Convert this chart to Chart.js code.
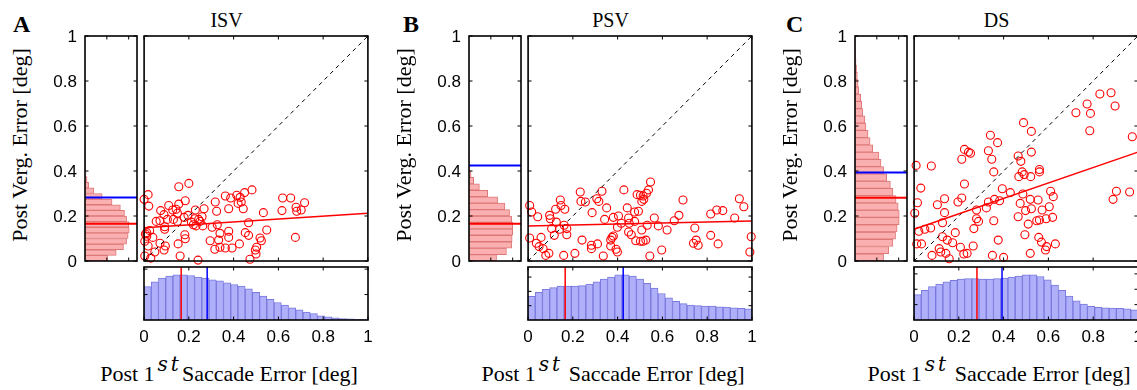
<!DOCTYPE html>
<html>
<head>
<meta charset="utf-8">
<script src="https://cdn.jsdelivr.net/npm/chart.js"></script>
<style>
  body { margin: 0; background: #fff; }
  #fig { position: relative; width: 1137px; height: 390px; overflow: hidden; font-family: "Liberation Serif", "Times New Roman", serif; color: #000; }
  .panel { position: absolute; top: 0; width: 384px; height: 390px; }
  canvas { position: absolute; }
  .letter { position: absolute; top: 12px; font: bold 24px/24px "Liberation Serif", serif; }
  .title { position: absolute; top: 10px; left: 85px; width: 283px; text-align: center; font: 20px/20px "Liberation Serif", serif; }
  .ylab { position: absolute; left: -110px; top: 134px; width: 260px; text-align: center; font: 22px/22px "Liberation Serif", serif; transform: rotate(-90deg); white-space: nowrap; }
  .xlab { position: absolute; left: 29px; top: 362px; width: 400px; text-align: center; font: 22px/22px "Liberation Serif", serif; white-space: nowrap; }
  .sup { position: relative; top: -10px; font: italic 20px "DejaVu Serif", serif; letter-spacing: 3px; margin-left: 3px; }
</style>
</head>
<body>
<div id="fig"></div>
<script>
const tickValues = [0, 0.2, 0.4, 0.6, 0.8, 1];
const tickLabels = ["0", "0.2", "0.4", "0.6", "0.8", "1"];

const letters = ["A", "B", "C"];
const titles = ["ISV", "PSV", "DS"];

// scatter points: [post 1st saccade error, post vergence error]
const isvPoints = [
  [0.000,0.274],[0.018,0.295],[0.021,0.244],[0.155,0.330],[0.200,0.345],[0.074,0.224],[0.110,0.247],[0.143,0.230],[0.155,0.253],[0.184,0.268],
  [0.128,0.227],[0.149,0.212],[0.089,0.206],[0.054,0.176],[0.071,0.179],[0.104,0.185],[0.131,0.185],[0.149,0.176],[0.179,0.194],[0.196,0.203],
  [0.229,0.227],[0.268,0.232],[0.226,0.188],[0.244,0.185],[0.259,0.197],[0.220,0.161],[0.232,0.156],[0.262,0.156],[0.211,0.173],[0.250,0.176],
  [0.092,0.152],[0.092,0.141],[0.006,0.120],[0.012,0.126],[0.003,0.088],[0.039,0.105],[0.018,0.067],[0.071,0.079],[0.095,0.067],[0.089,0.049],
  [0.003,0.022],[0.030,0.013],[0.048,0.040],[0.161,0.022],[0.241,0.004],[0.152,0.076],[0.182,0.117],[0.184,0.099],[0.304,0.150],[0.327,0.161],
  [0.339,0.123],[0.295,0.090],[0.316,0.052],[0.333,0.093],[0.318,0.262],[0.324,0.221],[0.363,0.289],[0.387,0.280],[0.414,0.292],[0.429,0.283],
  [0.449,0.304],[0.482,0.316],[0.420,0.256],[0.434,0.262],[0.378,0.232],[0.443,0.232],[0.467,0.170],[0.378,0.132],[0.378,0.105],[0.339,0.061],
  [0.363,0.058],[0.393,0.058],[0.426,0.076],[0.452,0.126],[0.467,0.114],[0.473,0.008],[0.497,0.049],[0.500,0.031],[0.503,0.061],[0.518,0.102],
  [0.524,0.090],[0.548,0.138],[0.533,0.215],[0.619,0.280],[0.655,0.280],[0.616,0.224],[0.679,0.239],[0.682,0.221],[0.702,0.227],[0.717,0.259],
  [0.676,0.105],[0.012,0.110],[0.025,0.135]
];
const psvPoints = [
  [0.007,0.247],[0.016,0.218],[0.043,0.197],[0.007,0.102],[0.058,0.105],[0.037,0.079],[0.049,0.064],[0.067,0.055],[0.079,0.025],[0.093,0.034],
  [0.096,0.203],[0.099,0.188],[0.105,0.144],[0.117,0.114],[0.123,0.230],[0.126,0.173],[0.144,0.271],[0.147,0.247],[0.164,0.230],[0.141,0.141],
  [0.161,0.159],[0.173,0.144],[0.173,0.117],[0.159,0.025],[0.209,0.034],[0.233,0.307],[0.236,0.265],[0.256,0.262],[0.241,0.093],[0.286,0.215],
  [0.307,0.277],[0.316,0.265],[0.330,0.310],[0.283,0.070],[0.283,0.055],[0.310,0.076],[0.336,0.022],[0.342,0.185],[0.351,0.236],[0.369,0.093],
  [0.375,0.105],[0.381,0.111],[0.369,0.067],[0.393,0.052],[0.399,0.040],[0.381,0.194],[0.399,0.150],[0.404,0.200],[0.416,0.168],[0.428,0.316],
  [0.443,0.236],[0.449,0.191],[0.449,0.129],[0.461,0.117],[0.452,0.168],[0.476,0.176],[0.476,0.218],[0.493,0.221],[0.481,0.090],[0.502,0.088],
  [0.514,0.088],[0.526,0.093],[0.487,0.295],[0.502,0.292],[0.514,0.289],[0.508,0.265],[0.517,0.274],[0.538,0.316],[0.529,0.301],[0.547,0.351],
  [0.508,0.138],[0.532,0.159],[0.544,0.022],[0.564,0.191],[0.582,0.156],[0.597,0.049],[0.621,0.138],[0.653,0.179],[0.674,0.203],[0.692,0.271],
  [0.745,0.147],[0.751,0.093],[0.739,0.079],[0.760,0.070],[0.816,0.209],[0.843,0.227],[0.870,0.224],[0.816,0.114],[0.849,0.076],[0.923,0.191],
  [0.944,0.277],[0.964,0.241],[0.997,0.108],[0.991,0.040]
];
const dsPoints = [
  [0.009,0.425],[0.077,0.422],[0.341,0.559],[0.373,0.526],[0.225,0.496],[0.243,0.484],[0.252,0.479],[0.213,0.452],[0.332,0.490],[0.347,0.452],
  [0.489,0.615],[0.524,0.576],[0.524,0.484],[0.465,0.467],[0.477,0.443],[0.723,0.659],[0.773,0.698],[0.830,0.742],[0.880,0.748],[0.898,0.689],
  [0.788,0.656],[0.785,0.579],[0.975,0.552],[0.356,0.396],[0.483,0.396],[0.492,0.384],[0.468,0.375],[0.521,0.375],[0.560,0.407],[0.560,0.396],
  [0.225,0.342],[0.030,0.324],[0.394,0.321],[0.430,0.304],[0.486,0.298],[0.610,0.310],[0.622,0.286],[0.889,0.274],[0.904,0.310],[0.963,0.307],
  [0.015,0.259],[0.104,0.250],[0.136,0.277],[0.196,0.262],[0.213,0.280],[0.332,0.262],[0.359,0.274],[0.382,0.268],[0.474,0.256],[0.519,0.274],
  [0.554,0.271],[0.003,0.212],[0.136,0.215],[0.279,0.227],[0.323,0.236],[0.498,0.224],[0.524,0.232],[0.572,0.227],[0.604,0.241],[0.465,0.197],
  [0.279,0.188],[0.288,0.176],[0.127,0.170],[0.356,0.179],[0.510,0.164],[0.548,0.179],[0.560,0.182],[0.590,0.188],[0.619,0.194],[0.021,0.132],
  [0.048,0.141],[0.074,0.147],[0.184,0.126],[0.267,0.144],[0.495,0.117],[0.127,0.108],[0.148,0.093],[0.172,0.081],[0.012,0.076],[0.033,0.076],
  [0.376,0.093],[0.557,0.105],[0.569,0.084],[0.631,0.076],[0.592,0.064],[0.587,0.049],[0.207,0.061],[0.264,0.067],[0.112,0.055],[0.080,0.025],
  [0.119,0.040],[0.142,0.034],[0.157,0.010],[0.222,0.031],[0.237,0.034],[0.350,0.025],[0.400,0.016],[0.519,0.034]
];

// regression line: value at x=0 and x=1
const isvFit = [0.148, 0.212];
const psvFit = [0.156, 0.178];
const dsFit = [0.141, 0.484];

// means: [red, blue]
const isvMeans = [0.166, 0.282];
const psvMeans = [0.166, 0.425];
const dsMeans = [0.281, 0.393];

// vergence error histograms (left, from 0 upwards, relative length)
const isvVergHist = [0.44,0.60,0.74,0.80,0.83,0.85,0.84,0.80,0.76,0.68,0.52,0.33,0.17,0.07,0.04,0.02,0.012,0.008,0.006,0.005,
  0.004,0.004,0.003,0.003,0.003,0.002,0.002,0.002,0.002,0.002,0.002,0.002,0.002,0.002,0.002,0.002,0.002,0.002,0.002,0];
const psvVergHist = [0.53,0.72,0.82,0.83,0.84,0.84,0.82,0.78,0.69,0.55,0.36,0.20,0.09,0.04,0.015,0.008,0.005,0.004,
  0.003,0.003,0.002,0.002,0.002,0.002,0.002,0.002,0.002,0.002,0.002,0.002,0.002,0.002,0.002,0.002,0];
const dsVergHist = [0.55,0.65,0.73,0.78,0.81,0.85,0.85,0.83,0.79,0.73,0.68,0.61,0.55,0.50,0.46,0.34,0.29,0.25,0.21,0.19,
  0.15,0.13,0.11,0.07,0.06,0.045,0.03,0.02,0.013,0.006,0.003];

// saccade error histograms (bottom, relative height)
const isvSaccHist = [0.63,0.72,0.79,0.83,0.85,0.85,0.84,0.81,0.79,0.76,0.74,0.70,0.67,0.64,0.59,0.52,0.45,0.39,0.33,0.28,
  0.23,0.19,0.15,0.12,0.08,0.06,0.04,0.026,0.02,0.013,0.006];
const psvSaccHist = [0.445,0.52,0.58,0.61,0.64,0.64,0.64,0.65,0.68,0.72,0.77,0.81,0.85,0.85,0.83,0.77,0.69,0.60,0.50,0.42,
  0.35,0.31,0.28,0.27,0.265,0.265,0.25,0.245,0.23,0.22,0.21];
const dsSaccHist = [0.48,0.56,0.63,0.68,0.72,0.75,0.77,0.78,0.78,0.77,0.77,0.78,0.79,0.81,0.83,0.85,0.85,0.82,0.76,0.66,
  0.56,0.45,0.36,0.30,0.26,0.24,0.23,0.225,0.22,0.21,0.19];

// count-axis tick marks of the histograms
const vergCountTicks = [0.42, 0.84];
const isvSaccCountTicks = [0.48, 0.96];
const psvSaccCountTicks = [0.27, 0.54, 0.81];
const dsSaccCountTicks = [0.29, 0.58, 0.87];

const RED = "#ff0000";
const BLUE = "#0000ff";

const panels = [
  { left: 0, letterX: 13, points: isvPoints, fit: isvFit, means: isvMeans, verg: isvVergHist, sacc: isvSaccHist, saccTicks: isvSaccCountTicks, gap: false },
  { left: 384, letterX: 19, points: psvPoints, fit: psvFit, means: psvMeans, verg: psvVergHist, sacc: psvSaccHist, saccTicks: psvSaccCountTicks, gap: true },
  { left: 770, letterX: 16, points: dsPoints, fit: dsFit, means: dsMeans, verg: dsVergHist, sacc: dsSaccHist, saccTicks: dsSaccCountTicks, gap: true }
];

// box, inward ticks and tick labels drawn from the chart's own scales
function frame(cfg) {
  return {
    id: "frame",
    afterDraw(chart) {
      const { ctx, chartArea: a, scales } = chart;
      const len = 3.5;
      ctx.save();
      ctx.strokeStyle = "#000";
      ctx.lineWidth = 1;
      ctx.beginPath();
      (cfg.xTicks || []).forEach(v => {
        const x = scales.x.getPixelForValue(v);
        ctx.moveTo(x, a.bottom); ctx.lineTo(x, a.bottom - len);
        ctx.moveTo(x, a.top); ctx.lineTo(x, a.top + len);
      });
      (cfg.yTicks || []).forEach(v => {
        const y = scales.y.getPixelForValue(v);
        ctx.moveTo(a.left, y); ctx.lineTo(a.left + len, y);
        ctx.moveTo(a.right, y); ctx.lineTo(a.right - len, y);
      });
      ctx.stroke();
      ctx.lineWidth = 1.6;
      ctx.strokeRect(a.left, a.top, a.right - a.left, a.bottom - a.top);

      ctx.fillStyle = "#000";
      ctx.font = '17px "Liberation Sans", Arial, sans-serif';
      if (cfg.yLabels) {
        ctx.textAlign = "right";
        ctx.textBaseline = "middle";
        tickValues.forEach((v, i) => ctx.fillText(tickLabels[i], a.left - 8, scales.y.getPixelForValue(v) + 1));
      }
      if (cfg.xLabels) {
        ctx.textAlign = "center";
        ctx.textBaseline = "middle";
        tickValues.forEach((v, i) => ctx.fillText(tickLabels[i], scales.x.getPixelForValue(v), a.bottom + 17));
      }
      ctx.restore();
    }
  };
}

function baseOptions(padding) {
  return {
    responsive: false,
    animation: false,
    events: [],
    layout: { padding },
    plugins: { legend: { display: false }, tooltip: { enabled: false } },
    scales: {
      x: { type: "linear", min: 0, max: 1, display: false, offset: false, ticks: { stepSize: 0.5 } },
      y: { type: "linear", min: 0, max: 1, display: false, offset: false, ticks: { stepSize: 0.5 } }
    }
  };
}

function segment(points, color, width, dash) {
  return {
    type: "scatter",
    data: points,
    showLine: true,
    borderColor: color,
    borderWidth: width,
    borderDash: dash || [],
    pointRadius: 0,
    clip: false
  };
}

function addCanvas(panel, l, t, w, h) {
  const c = document.createElement("canvas");
  c.width = w;
  c.height = h;
  c.style.left = l + "px";
  c.style.top = t + "px";
  panel.appendChild(c);
  return c;
}

function makePanel(p, i) {
  const panel = document.createElement("div");
  panel.className = "panel";
  panel.style.left = p.left + "px";
  document.getElementById("fig").appendChild(panel);

  panel.innerHTML =
    `<div class="letter" style="left:${p.letterX}px">${letters[i]}</div>` +
    `<div class="title">${titles[i]}</div>` +
    `<div class="ylab">Post Verg. Error [deg]</div>` +
    `<div class="xlab">Post 1<span class="sup">st</span>${p.gap ? " " : ""}Saccade Error [deg]</div>`;

  // left histogram (vergence error)
  const nv = p.verg.length;
  new Chart(addCanvas(panel, 40, 26, 102, 245), {
    type: "bar",
    data: {
      datasets: [
        segment([{ x: 0, y: p.means[1] }, { x: 1, y: p.means[1] }], BLUE, 2),
        segment([{ x: 0, y: p.means[0] }, { x: 1, y: p.means[0] }], RED, 2),
        {
          indexAxis: "y",
          data: p.verg.map((v, k) => ({ x: v, y: (k + 0.5) / nv })),
          backgroundColor: "rgb(250,176,176)",
          borderColor: "rgb(222,120,120)",
          borderWidth: 1,
          barPercentage: 1,
          categoryPercentage: 1
        }
      ]
    },
    options: baseOptions({ left: 45, top: 10, right: 5, bottom: 10 }),
    plugins: [frame({ xTicks: vergCountTicks, yTicks: tickValues, yLabels: true })]
  });

  // scatter
  new Chart(addCanvas(panel, 139, 26, 234, 245), {
    type: "scatter",
    data: {
      datasets: [
        segment([{ x: 0, y: p.fit[0] }, { x: 1, y: p.fit[1] }], RED, 1.5),
        segment([{ x: 0, y: 0 }, { x: 1, y: 1 }], "#000", 1, [4, 4]),
        {
          data: p.points.map(d => ({ x: d[0], y: d[1] })),
          borderColor: RED,
          backgroundColor: "rgba(0,0,0,0)",
          borderWidth: 1.1,
          pointRadius: 4,
          clip: false
        }
      ]
    },
    options: baseOptions({ left: 5, top: 10, right: 5, bottom: 10 }),
    plugins: [frame({ xTicks: tickValues, yTicks: tickValues })]
  });

  // bottom histogram (saccade error)
  const ns = p.sacc.length;
  new Chart(addCanvas(panel, 139, 262, 234, 90), {
    type: "bar",
    data: {
      datasets: [
        segment([{ x: p.means[1], y: 0 }, { x: p.means[1], y: 1 }], BLUE, 1.5),
        segment([{ x: p.means[0], y: 0 }, { x: p.means[0], y: 1 }], RED, 1.5),
        {
          data: p.sacc.map((v, k) => ({ x: (k + 0.5) / ns, y: v })),
          backgroundColor: "rgb(176,176,250)",
          borderColor: "rgb(120,120,222)",
          borderWidth: 1,
          barPercentage: 1,
          categoryPercentage: 1
        }
      ]
    },
    options: baseOptions({ left: 5, top: 5, right: 5, bottom: 32 }),
    plugins: [frame({ xTicks: tickValues, yTicks: p.saccTicks, xLabels: true })]
  });
}

panels.forEach(makePanel);
</script>
</body>
</html>
